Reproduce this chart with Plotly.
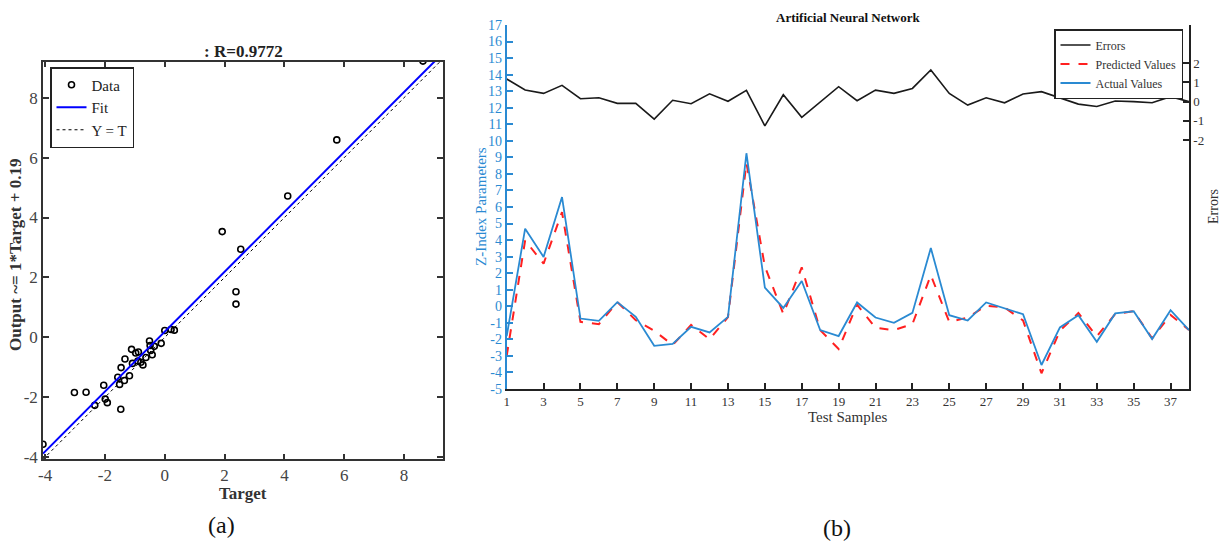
import plotly.graph_objects as go

W, H = 1229, 546

# ---------------- Panel (a): regression ----------------
target = [-4.07, -3.02, -2.63, -2.34, -2.04, -1.99, -1.92, -1.57, -1.51, -1.47,
          -1.46, -1.35, -1.33, -1.18, -1.11, -1.08, -0.97, -0.88, -0.90, -0.80,
          -0.73, -0.63, -0.51, -0.49, -0.47, -0.42, -0.35, -0.12, 0.00, 0.21,
          0.32, 2.38, 2.38, 1.92, 2.54, 4.11, 5.75, 8.63]
output = [-3.57, -1.84, -1.83, -2.27, -1.60, -2.06, -2.18, -1.33, -1.57, -2.40,
          -1.01, -1.44, -0.72, -1.28, -0.40, -0.87, -0.52, -0.49, -0.79, -0.83,
          -0.92, -0.67, -0.12, -0.27, -0.44, -0.58, -0.30, -0.20, 0.23, 0.26,
          0.24, 1.52, 1.11, 3.53, 2.94, 4.72, 6.59, 9.22]
fit_slope = 1.0
fit_intercept = 0.19
r_value = 0.9772
a_xrange = [-4.07, 9.3]
a_yrange = [-4.07, 9.2]
a_ticks = [-4, -2, 0, 2, 4, 6, 8]
a_ticktext = ["-4", "-2", "0", "2", "4", "6", "8"]

# ---------------- Panel (b): ANN test samples ----------------
samples = list(range(1, 39))
actual = [-1.8, 4.69, 2.98, 6.6, -0.74, -0.88, 0.25, -0.64, -2.39, -2.27,
          -1.24, -1.58, -0.64, 9.25, 1.13, -0.1, 1.53, -1.44, -1.8, 0.23,
          -0.68, -1.0, -0.4, 3.52, -0.54, -0.86, 0.23, -0.13, -0.48, -3.55,
          -1.28, -0.54, -2.15, -0.43, -0.3, -1.98, -0.24, -1.44]
predicted = [-3.0, 3.98, 2.58, 5.69, -0.94, -1.08, 0.25, -0.84, -1.48, -2.34,
             -1.13, -1.99, -0.66, 8.66, 2.4, -0.46, 2.35, -1.44, -2.58, 0.1,
             -1.3, -1.44, -1.08, 1.88, -0.95, -0.68, 0.03, -0.07, -0.86, -4.05,
             -1.48, -0.41, -1.82, -0.46, -0.3, -1.94, -0.52, -1.44]
errors = [1.18, 0.61, 0.43, 0.85, 0.15, 0.2, -0.09, -0.09, -0.91, 0.07,
          -0.11, 0.41, 0.02, 0.59, -1.27, 0.36, -0.82, 0.0, 0.78, 0.05,
          0.6, 0.43, 0.69, 1.65, 0.43, -0.18, 0.2, -0.06, 0.4, 0.52,
          0.2, -0.13, -0.25, 0.03, 0.0, -0.06, 0.26, 0.0]
b_xticks = list(range(1, 38, 2))
b_yticks = list(range(-5, 18))
b_yticktext = [str(v) for v in b_yticks]
err_ticks = [-2, -1, 0, 1, 2]
err_ticktext = ["-2", "-1", "0", "1", "2"]

SERIF = "Liberation Serif, Times New Roman, serif"
BLUE = "#2A8AD2"


def fx(p):
    return p / W


def fy(p):
    return 1 - p / H


fig = go.Figure()

# Panel (a) traces
fig.add_trace(go.Scatter(
    x=target, y=output, mode="markers", name="Data",
    marker=dict(symbol="circle-open", size=6, color="black", line=dict(width=1.6)),
    xaxis="x", yaxis="y", legend="legend"))
fit_x = [a_xrange[0], a_xrange[1]]
fig.add_trace(go.Scatter(
    x=fit_x, y=[fit_slope * v + fit_intercept for v in fit_x], mode="lines", name="Fit",
    line=dict(color="#0000FF", width=2), xaxis="x", yaxis="y", legend="legend"))
fig.add_trace(go.Scatter(
    x=fit_x, y=fit_x, mode="lines", name="Y = T",
    line=dict(color="black", width=1, dash="dot"), xaxis="x", yaxis="y", legend="legend"))

# Panel (b) traces
fig.add_trace(go.Scatter(
    x=samples, y=errors, mode="lines", name="Errors",
    line=dict(color="#1a1a1a", width=1.6), xaxis="x2", yaxis="y3", legend="legend2"))
fig.add_trace(go.Scatter(
    x=samples, y=predicted, mode="lines", name="Predicted Values",
    line=dict(color="#FF2020", width=2, dash="dash"), xaxis="x2", yaxis="y2", legend="legend2"))
fig.add_trace(go.Scatter(
    x=samples, y=actual, mode="lines", name="Actual Values",
    line=dict(color=BLUE, width=1.8), xaxis="x2", yaxis="y2", legend="legend2"))

axis_common_a = dict(showgrid=False, zeroline=False, showline=True, linecolor="#333333",
                     linewidth=1.5, mirror="ticks", ticks="inside", ticklen=6,
                     tickcolor="#333333", tickwidth=1.5, automargin=False,
                     tickfont=dict(family=SERIF, size=17, color="#444444"))

fig.update_layout(
    template="none",
    width=W, height=H, autosize=False,
    margin=dict(l=0, r=0, t=0, b=0, pad=0),
    paper_bgcolor="white", plot_bgcolor="white",
    xaxis=dict(domain=[fx(43), fx(443)], range=a_xrange, anchor="y",
               tickvals=a_ticks, ticktext=a_ticktext, **axis_common_a),
    yaxis=dict(domain=[fy(459.3), fy(61.7)], range=a_yrange, anchor="x",
               tickvals=a_ticks, ticktext=a_ticktext, **axis_common_a),
    xaxis2=dict(domain=[fx(506.7), fx(1189)], range=[1, 38], anchor="y2",
                tickvals=b_xticks, showgrid=False, zeroline=False, showline=True,
                linecolor="#222222", linewidth=1.5, ticks="inside", ticklen=6,
                tickcolor="#222222", tickwidth=1.5, automargin=False,
                tickfont=dict(family=SERIF, size=13, color="#333333")),
    yaxis2=dict(domain=[fy(389), fy(25)], range=[-5, 17], anchor="x2",
                tickvals=b_yticks, ticktext=b_yticktext, showgrid=False, zeroline=False,
                showline=True, linecolor=BLUE, linewidth=2, ticks="inside", ticklen=6,
                tickcolor=BLUE, tickwidth=2, automargin=False,
                tickfont=dict(family=SERIF, size=14, color=BLUE)),
    yaxis3=dict(domain=[fy(389), fy(25)], range=[-15, 4], anchor="x2", overlaying="y2",
                side="right", tickvals=err_ticks, ticktext=err_ticktext, showgrid=False,
                zeroline=False, showline=True, linecolor="#222222", linewidth=1.5,
                ticks="inside", ticklen=6, tickcolor="#222222", tickwidth=1.5,
                automargin=False,
                tickfont=dict(family=SERIF, size=13, color="#333333")),
    legend=dict(x=fx(50), y=fy(67), xanchor="left", yanchor="top",
                bgcolor="white", bordercolor="#222222", borderwidth=1.5,
                font=dict(family=SERIF, size=15, color="#222222"),
                itemwidth=30, tracegroupgap=0),
    legend2=dict(x=fx(1183), y=fy(29), xanchor="right", yanchor="top",
                 bgcolor="white", bordercolor="#222222", borderwidth=1.5,
                 font=dict(family=SERIF, size=12, color="#333333"),
                 itemwidth=30, tracegroupgap=0),
    showlegend=True,
)

annotations = [
    dict(text="<b>: R=%.4f</b>" % r_value, x=fx(243), y=fy(51), font=dict(size=17, color="#222222")),
    dict(text="<b>Target</b>", x=fx(243), y=fy(493), font=dict(size=17, color="#333333")),
    dict(text="<b>Output ~= %g*Target + %.2f</b>" % (fit_slope, fit_intercept), x=fx(15), y=fy(255),
         textangle=-90, font=dict(size=17, color="#333333")),
    dict(text="(a)", x=fx(222), y=fy(525), font=dict(size=24, color="#111111")),
    dict(text="<b>Artificial Neural Network</b>", x=fx(848), y=fy(17), font=dict(size=13, color="#111111")),
    dict(text="Test Samples", x=fx(848), y=fy(417), font=dict(size=15, color="#333333")),
    dict(text="Z-Index Parameters", x=fx(481), y=fy(207), textangle=-90, font=dict(size=15, color=BLUE)),
    dict(text="Errors", x=fx(1213), y=fy(207), textangle=-90, font=dict(size=14, color="#333333")),
    dict(text="(b)", x=fx(837), y=fy(528), font=dict(size=24, color="#111111")),
]
for a in annotations:
    a.update(xref="paper", yref="paper", showarrow=False, xanchor="center", yanchor="middle")
    a["font"]["family"] = SERIF
fig.update_layout(annotations=annotations)

fig.write_html("out.html", config={"displayModeBar": False},
               post_script="document.body.style.margin='0';")
